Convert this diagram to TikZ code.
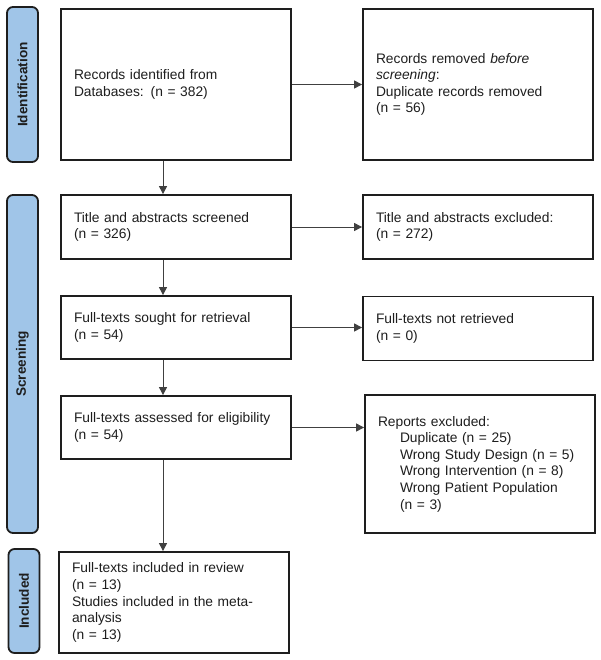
\documentclass[tikz,border=0pt]{standalone}
\usepackage{fontspec}
\setmainfont{Liberation Sans}
\usetikzlibrary{arrows.meta}
\definecolor{sidefill}{RGB}{160,197,232}
\definecolor{ink}{RGB}{30,30,30}
\begin{document}
\begin{tikzpicture}[x=1pt,y=-1pt,
  every node/.style={font=\fontsize{13.8}{16.6}\selectfont, text=ink},
  box/.style={draw=ink, line width=1.8pt, fill=white, minimum width=230pt, inner sep=0pt,
    text width=204pt, align=left},
  side/.style={draw=ink, line width=1.8pt, fill=sidefill, rounded corners=6pt, minimum width=31pt, inner sep=0pt},
  sidetxt/.style={rotate=90, font=\bfseries\fontsize{13.6}{16}\selectfont},
  arr/.style={draw=black!75, line width=1pt, -{Triangle[length=8pt,width=8pt]}}
]
\useasboundingbox (0,0) rectangle (600,660);

% sidebars
\node[side, minimum height=155pt] (s1) at (22.5,84.5) {};
\node[sidetxt] (t1) at (s1.center) {Identification};
\node[side, minimum height=338pt] (s2) at (22.5,364) {};
\node[sidetxt] (t2) at (s2.center) {Screening};
\node[side, minimum height=104pt] (s3) at (24,601) {};
\node[sidetxt] (t3) at (s3.center) {Included};

% left column
\node[box, minimum height=151pt] (b1) at (176,84.5) {Records identified from\\Databases: (n = 382)};
\node[box, minimum height=64pt] (b2) at (176,227) {Title and abstracts screened\\(n = 326)};
\node[box, minimum height=63pt] (b3) at (176,327.5) {Full-texts sought for retrieval\\(n = 54)};
\node[box, minimum height=63pt] (b4) at (176,427.5) {Full-texts assessed for eligibility\\(n = 54)};
\node[box, minimum height=101pt] (b5) at (174,602.5) {Full-texts included in review\\(n = 13)\\Studies included in the meta-\\analysis\\(n = 13)};

% right column
\node[box, minimum height=151pt] (r1) at (478,84.5) {Records removed \textit{before}\\\textit{screening}:\\Duplicate records removed\\(n = 56)};
\node[box, minimum height=64pt] (r2) at (478,227) {Title and abstracts excluded:\\(n = 272)};
\node[box, minimum height=64pt] (r3) at (478,328.5) {Full-texts not retrieved\\(n = 0)};
\node[box, minimum height=138pt] (r4) at (480,464) {Reports excluded:\\\hspace*{22pt}Duplicate (n = 25)\\\hspace*{22pt}Wrong Study Design (n = 5)\\\hspace*{22pt}Wrong Intervention (n = 8)\\\hspace*{22pt}Wrong Patient Population\\\hspace*{22pt}(n = 3)};

% horizontal arrows
\draw[arr] (b1.east) -- (r1.west);
\draw[arr] (b2.east) -- (r2.west);
\draw[arr] (b3.east) -- (b3.east -| r3.west);
\draw[arr] (b4.east) -- (b4.east -| r4.west);

% vertical arrows
\draw[arr] ([xshift=-13pt]b1.south) -- ([xshift=-13pt]b2.north);
\draw[arr] ([xshift=-13pt]b2.south) -- ([xshift=-13pt]b3.north);
\draw[arr] ([xshift=-13pt]b3.south) -- ([xshift=-13pt]b4.north);
\draw[arr] ([xshift=-13pt]b4.south) -- ([xshift=-11pt]b5.north);
\end{tikzpicture}
\end{document}
